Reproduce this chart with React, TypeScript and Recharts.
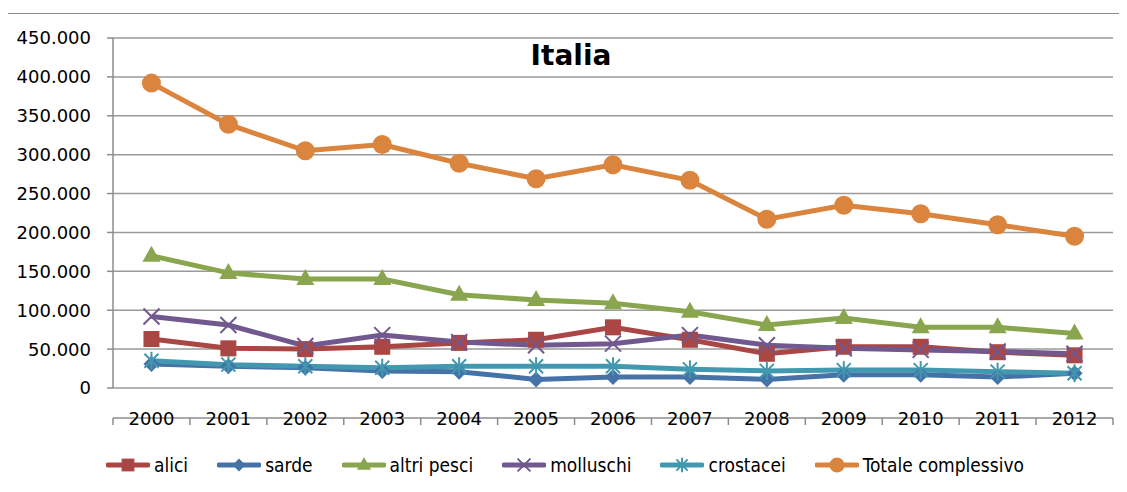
import React from 'react';
import { LineChart, Line, XAxis, YAxis, CartesianGrid, Legend } from 'recharts';

// valori (tonnellate)
const years = ['2000', '2001', '2002', '2003', '2004', '2005', '2006', '2007', '2008', '2009', '2010', '2011', '2012'];
const alici = [63000, 51000, 50000, 53000, 58000, 62000, 78000, 62000, 44000, 53000, 53000, 46000, 42000];
const sarde = [31000, 28000, 26000, 22000, 21000, 11000, 14000, 14000, 11000, 17000, 17000, 14000, 19000];
const altriPesci = [170000, 148000, 140000, 140000, 120000, 113000, 109000, 98000, 81000, 90000, 78000, 78000, 70000];
const molluschi = [92000, 81000, 54000, 68000, 59000, 55000, 57000, 68000, 55000, 51000, 49000, 47000, 44000];
const crostacei = [35000, 30000, 28000, 26000, 28000, 28000, 28000, 24000, 22000, 23000, 23000, 21000, 19000];
const totale = [392000, 339000, 305000, 313000, 289000, 269000, 287000, 267000, 217000, 235000, 224000, 210000, 195000];
const yTicks = [0, 50000, 100000, 150000, 200000, 250000, 300000, 350000, 400000, 450000];

type Kind = 'square' | 'diamond' | 'triangle' | 'x' | 'star' | 'circle';

const series: { key: string; name: string; color: string; kind: Kind }[] = [
  { key: 'alici', name: 'alici', color: '#AA4643', kind: 'square' },
  { key: 'sarde', name: 'sarde', color: '#4572A7', kind: 'diamond' },
  { key: 'altriPesci', name: 'altri pesci', color: '#89A54E', kind: 'triangle' },
  { key: 'molluschi', name: 'molluschi', color: '#71588F', kind: 'x' },
  { key: 'crostacei', name: 'crostacei', color: '#4198AF', kind: 'star' },
  { key: 'totale', name: 'Totale complessivo', color: '#DB843D', kind: 'circle' },
];

const data = years.map((year, i) => ({
  year,
  idx: i,
  alici: alici[i],
  sarde: sarde[i],
  altriPesci: altriPesci[i],
  molluschi: molluschi[i],
  crostacei: crostacei[i],
  totale: totale[i],
}));

// tacche dell'asse x ai bordi delle categorie
const boundaryTicks = [...years.map((_, i) => i), years.length];

const fmt = (v: number) => String(v).replace(/\B(?=(\d{3})+(?!\d))/g, '.');

const Marker = ({ kind, color, cx, cy, s = 1 }: { kind: Kind; color: string; cx: number; cy: number; s?: number }) => {
  switch (kind) {
    case 'square':
      return <rect x={cx - 8 * s} y={cy - 8 * s} width={16 * s} height={16 * s} fill={color} />;
    case 'diamond':
      return <polygon points={`${cx},${cy - 8 * s} ${cx + 8 * s},${cy} ${cx},${cy + 8 * s} ${cx - 8 * s},${cy}`} fill={color} />;
    case 'triangle':
      return <polygon points={`${cx},${cy - 10 * s} ${cx + 9 * s},${cy + 6 * s} ${cx - 9 * s},${cy + 6 * s}`} fill={color} />;
    case 'x':
      return (
        <g stroke={color} strokeWidth={2}>
          <line x1={cx - 8 * s} y1={cy - 8 * s} x2={cx + 8 * s} y2={cy + 8 * s} />
          <line x1={cx - 8 * s} y1={cy + 8 * s} x2={cx + 8 * s} y2={cy - 8 * s} />
        </g>
      );
    case 'star':
      return (
        <g stroke={color} strokeWidth={2}>
          <line x1={cx - 7 * s} y1={cy - 7 * s} x2={cx + 7 * s} y2={cy + 7 * s} />
          <line x1={cx - 7 * s} y1={cy + 7 * s} x2={cx + 7 * s} y2={cy - 7 * s} />
          <line x1={cx} y1={cy - 9 * s} x2={cx} y2={cy + 9 * s} />
        </g>
      );
    default:
      return <circle cx={cx} cy={cy} r={9.5 * s} fill={color} />;
  }
};

const makeDot = (kind: Kind, color: string) => (props: any) => {
  const { cx, cy, index } = props;
  if (cx == null || cy == null) return <g key={index} />;
  return (
    <g key={index}>
      <Marker kind={kind} color={color} cx={cx} cy={cy} />
    </g>
  );
};

const LegendContent = () => (
  <div
    style={{
      display: 'flex',
      height: 30,
      alignItems: 'center',
      fontFamily: '"DejaVu Sans Condensed", "Liberation Sans Narrow", "Liberation Sans", sans-serif',
      fontSize: 19,
      color: '#000',
      whiteSpace: 'nowrap',
    }}
  >
    {series.map((s) => (
      <div key={s.key} style={{ display: 'flex', alignItems: 'center', marginRight: 29 }}>
        <svg width={44} height={20} style={{ marginRight: 4 }}>
          <line x1={2} y1={10} x2={42} y2={10} stroke={s.color} strokeWidth={5} strokeLinecap="round" />
          <Marker kind={s.kind} color={s.color} cx={22} cy={10} s={0.8} />
        </svg>
        <span>{s.name}</span>
      </div>
    ))}
  </div>
);

const App: React.FC = () => {
  return (
    <div
      style={{
        position: 'relative',
        top: 5,
        left: -1,
        width: 1119,
        height: 479,
        marginBottom: -3,
        borderLeft: '1px solid #8c8c8c',
        borderTop: '1px solid #8c8c8c',
        boxSizing: 'border-box',
        background: '#fff',
      }}
    >
      <div
        style={{
          position: 'absolute',
          left: 463,
          top: 25,
          width: 200,
          textAlign: 'center',
          fontFamily: '"DejaVu Sans", sans-serif',
          fontWeight: 'bold',
          fontSize: 28,
          lineHeight: '34px',
          zIndex: 2,
        }}
      >
        Italia
      </div>
      <LineChart width={1116} height={475} data={data} margin={{ top: 24, right: 11, left: 10, bottom: 40 }}>
        <CartesianGrid vertical={false} stroke="#9a9a9a" strokeWidth={1.5} xAxisId="cat" />
        <XAxis
          xAxisId="ticks"
          type="number"
          dataKey="idx"
          domain={[0, years.length]}
          ticks={boundaryTicks}
          height={1}
          tickFormatter={() => ''}
          tickSize={7}
          stroke="#8c8c8c"
          strokeWidth={1.5}
        />
        <XAxis
          xAxisId="cat"
          dataKey="year"
          scale="band"
          height={30}
          axisLine={false}
          tickLine={false}
          tickSize={8}
          tickMargin={16}
          tick={{ fill: '#000', fontSize: 18, fontFamily: '"DejaVu Sans", sans-serif' }}
        />
        <YAxis
          width={95}
          domain={[0, 450000]}
          ticks={yTicks}
          tickFormatter={fmt}
          tickSize={6}
          tickMargin={16}
          stroke="#8c8c8c"
          strokeWidth={1.5}
          tick={{ fill: '#000', fontSize: 18, fontFamily: '"DejaVu Sans", sans-serif' }}
        />
        <Legend content={() => <LegendContent />} wrapperStyle={{ left: 98, bottom: 9, width: 'auto', height: 30 }} />
        {series.map((s) => (
          <Line
            key={s.key}
            xAxisId="cat"
            dataKey={s.key}
            name={s.name}
            stroke={s.color}
            strokeWidth={5}
            dot={makeDot(s.kind, s.color)}
            isAnimationActive={false}
          />
        ))}
      </LineChart>
    </div>
  );
};

export default App;
